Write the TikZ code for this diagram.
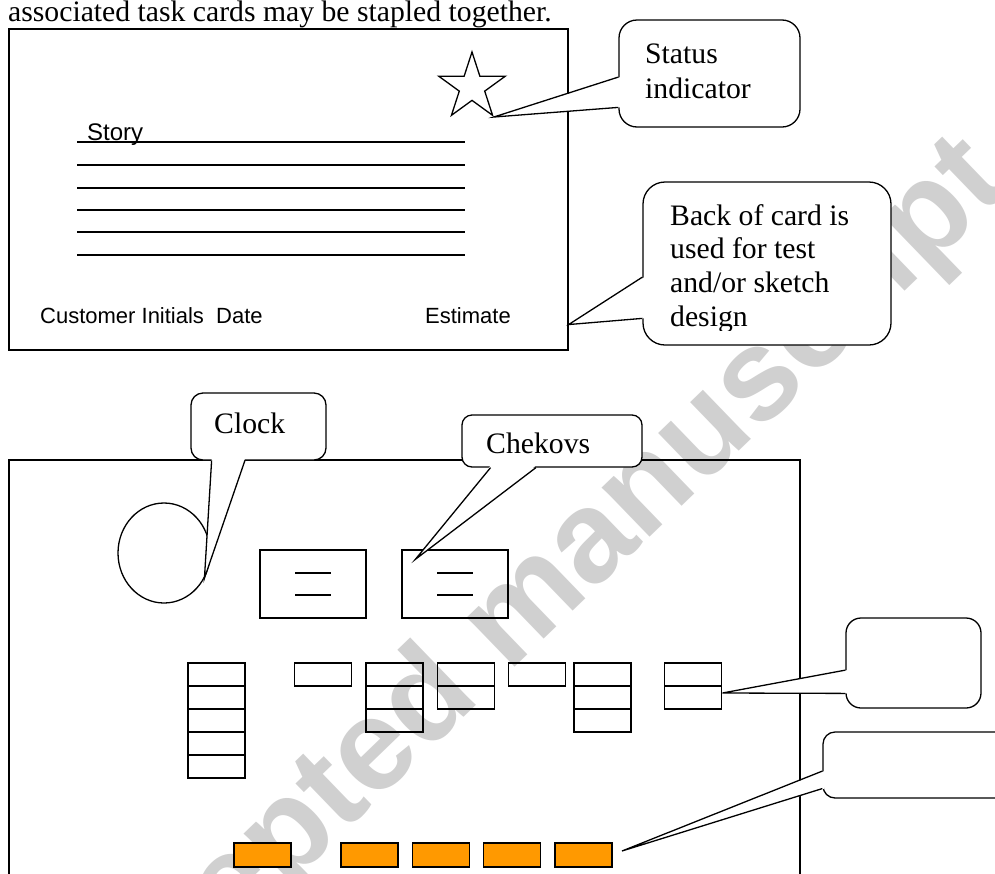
\documentclass[tikz,border=0pt]{standalone}
\usepackage{fontspec}
\setmainfont{Liberation Serif}
\newfontfamily\arialfont{Liberation Sans}
\usetikzlibrary{shapes.geometric,calc}
\definecolor{taskorange}{RGB}{255,153,0}
\definecolor{markgray}{RGB}{208,208,208}
\tikzset{
  card/.style={draw, line width=1.3pt, inner sep=0pt},
  slot/.style={draw, line width=1.9pt, minimum width=57pt, minimum height=23pt, inner sep=0pt},
  tag/.style={slot, fill=taskorange, minimum height=24pt},
  callbox/.style={draw, fill=white, line width=1.3pt, inner sep=0pt},
  callline/.style={line width=1.3pt},
  calltext/.style={anchor=base west, inner sep=0pt, font=\fontsize{29.7}{34}\selectfont},
  cardtext/.style={anchor=base west, inner sep=0pt, font=\arialfont\fontsize{22}{26}\selectfont},
}
\begin{document}
\begin{tikzpicture}[x=1pt, y=-1pt]
\useasboundingbox (0,0) rectangle (995,873);

% watermark
\node[rotate=44, text=markgray, font=\arialfont\bfseries\fontsize{130}{130}\selectfont] (watermark) at (514,622) {Accepted manuscript};

% story card
\node[card, minimum width=559pt, minimum height=321pt] (storycard) at (288.5,189.5) {};
\node[anchor=base west, inner sep=0pt, font=\fontsize{29.7}{34}\selectfont] (caption) at (8,21) {associated task cards may be stapled together.};
\node[cardtext, font=\arialfont\fontsize{24}{28}\selectfont] (story) at (87,140) {Story};
\foreach \y in {142,165,188,210,232,255}
  \draw[line width=1.8pt] (77,\y) -- (465,\y);
\node[cardtext] (initials) at (40,323) {Customer Initials\ \ Date};
\node[cardtext] (estimate) at (425,323) {Estimate};
\node[star, star points=5, star point ratio=2.618, minimum size=70pt, inner sep=0pt, draw, line width=1.3pt] (statusstar) at (472,87) {};

% task board
\node[card, minimum width=791pt, minimum height=440pt] (board) at (404.5,680) {};
\node[ellipse, draw, line width=1.3pt, minimum width=92pt, minimum height=100pt, inner sep=0pt] (clockface) at (164,553) {};
\node[card, minimum width=106pt, minimum height=68pt] (chekA) at (313,584) {};
\node[card, minimum width=106pt, minimum height=68pt] (chekB) at (455,584) {};
\foreach \k in {chekA,chekB}
  \foreach \dy in {11,-11}
    \draw[line width=1.6pt] ([xshift=-18pt,yshift=\dy pt]\k.center) -- ([xshift=18pt,yshift=\dy pt]\k.center);

% task slots
\foreach \x/\n [count=\c] in {216.5/5,323/1,394.5/3,466/2,537/1,602.5/3,693/2}
  \foreach \r in {1,...,\n}
    \node[slot] (slot\c-\r) at (\x,{674.5+23*(\r-1)}) {};

% finished tasks
\foreach \x [count=\c] in {262.5,369.5,441,512,583.5}
  \node[tag] (tag\c) at (\x,855) {};

% status callout
\node[callbox, minimum width=181pt, minimum height=107pt, rounded corners=18pt] (status) at (709.5,73.5) {};
\coordinate (statusA) at ($(status.north west)!0.533!(status.south west)$);
\coordinate (statusB) at ($(status.north west)!0.813!(status.south west)$);
\fill[white] ([xshift=2pt]statusA) -- (statusstar.outer point 4) -- ([xshift=2pt]statusB) -- cycle;
\draw[callline] (statusA) -- (statusstar.outer point 4) -- (statusB);
\node[calltext] (status1) at (645,63) {Status};
\node[calltext] (status2) at (645,98) {indicator};

% back of card callout
\node[callbox, minimum width=248pt, minimum height=163pt, rounded corners=22pt] (back) at (767,263.5) {};
\coordinate (backA) at ($(back.north west)!0.583!(back.south west)$);
\coordinate (backB) at ($(back.north west)!0.834!(back.south west)$);
\coordinate (backtip) at ($(storycard.north east)!0.919!(storycard.south east)$);
\fill[white] ([xshift=2pt]backA) -- (backtip) -- ([xshift=2pt]backB) -- cycle;
\draw[callline] (backA) -- (backtip) -- (backB);
\begin{scope}
  \clip (back.north west) rectangle ([yshift=15pt]back.south east);
  \foreach \t [count=\i] in {Back of card is,used for test,and/or sketch,design}
    \node[calltext] (back\i) at (670,{225+33.7*(\i-1)}) {\t};
\end{scope}

% clock callout
\node[callbox, minimum width=135pt, minimum height=67pt, rounded corners=12pt] (clock) at (258.5,426.5) {};
\coordinate (clockA) at ($(clock.south west)!0.156!(clock.south east)$);
\coordinate (clockB) at ($(clock.south west)!0.4!(clock.south east)$);
\fill[white] ([yshift=2pt]clockA) -- (clockface.-32) -- ([yshift=2pt]clockB) -- cycle;
\draw[callline] (clockA) -- (clockface.-32) -- (clockB);
\node[calltext] (clocktxt) at (214,433) {Clock};

% chekovs callout
\node[callbox, minimum width=180pt, minimum height=52pt, rounded corners=10pt] (chekovs) at (552,441) {};
\coordinate (chekovsA) at ($(chekovs.south west)!0.161!(chekovs.south east)$);
\coordinate (chekovsB) at ($(chekovs.south west)!0.411!(chekovs.south east)$);
\coordinate (chekovstip) at ([xshift=14pt,yshift=-10pt]chekB.north west);
\fill[white] ([yshift=2pt]chekovsA) -- (chekovstip) -- ([yshift=2pt]chekovsB) -- cycle;
\draw[callline] (chekovsA) -- (chekovstip) -- (chekovsB);
\node[calltext] (chekovstxt) at (486,453) {Chekovs};

% empty callouts
\node[callbox, minimum width=135pt, minimum height=90pt, rounded corners=15pt] (slotnote) at (913.5,663) {};
\coordinate (slotnoteA) at ($(slotnote.north west)!0.578!(slotnote.south west)$);
\coordinate (slotnoteB) at ($(slotnote.north west)!0.833!(slotnote.south west)$);
\coordinate (slotnotetip) at ([yshift=4.5pt]slot7-2.east);
\fill[white] ([xshift=2pt]slotnoteA) -- (slotnotetip) -- ([xshift=2pt]slotnoteB) -- cycle;
\draw[callline] (slotnoteA) -- (slotnotetip) -- (slotnoteB);

\node[callbox, minimum width=197pt, minimum height=66pt, rounded corners=12pt] (tagnote) at (921.5,765) {};
\coordinate (tagnoteA) at ($(tagnote.north west)!0.59!(tagnote.south west)$);
\coordinate (tagnoteB) at ($(tagnote.north west)!0.85!(tagnote.south west)$);
\coordinate (tagnotetip) at ([xshift=9pt,yshift=4pt]tag5.east);
\fill[white] ([xshift=2pt]tagnoteA) -- (tagnotetip) -- ([xshift=2pt]tagnoteB) -- cycle;
\draw[callline] (tagnoteA) -- (tagnotetip) -- (tagnoteB);
\end{tikzpicture}
\end{document}
